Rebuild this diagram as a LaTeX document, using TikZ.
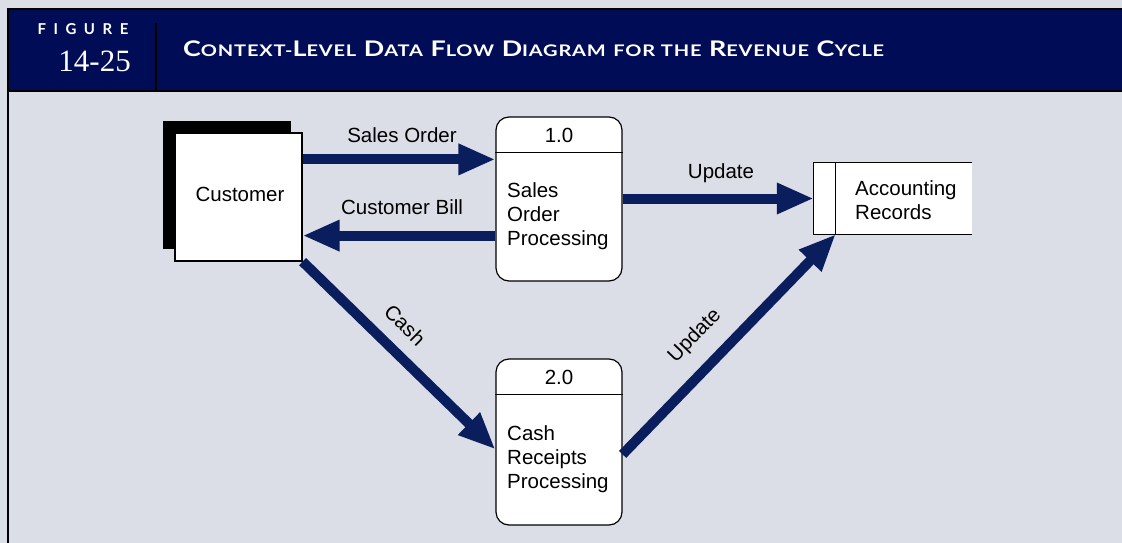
\documentclass[tikz,border=0pt]{standalone}
\usepackage{fontspec}
\usepackage{graphicx}
\setmainfont{Liberation Sans}
\newfontfamily\numfont{Liberation Serif}
\newfontfamily\ttlfont{Lato}
\usetikzlibrary{arrows.meta,calc}
\definecolor{bg}{RGB}{219,222,231}
\definecolor{navy}{RGB}{0,13,86}
\definecolor{flowc}{RGB}{10,30,94}
\newcommand\SCx[2]{{\fontsize{21.5}{21.5}\selectfont #1}{\fontsize{16}{16}\selectfont #2}}
\begin{document}
\begin{tikzpicture}[x=1pt,y=-1pt,
  every node/.style={font=\fontsize{20.5}{24}\selectfont, inner sep=0pt},
  boxline/.style={draw=black, line width=1.2pt},
  proc/.style={boxline, fill=white, rounded corners=13pt, minimum width=126pt, minimum height=#1},
  flow/.style={draw=flowc, line width=10pt, -{Triangle[length=37pt,width=29pt]}},
  flowlbl/.style={text=black}
]
\useasboundingbox (0,0) rectangle (1122,543);
\fill[bg] (0,0) rectangle (1122,543);
% header
\fill[navy] (8,9) rectangle (1125,91);
\draw[line width=2.2pt] (8,560) -- (8,9) -- (1125,9);
\draw[line width=2pt] (8,91) -- (1125,91);
\draw[line width=2.5pt] (156,23) -- (156,91);
\node[anchor=base, text=white, font=\ttlfont\bfseries\fontsize{15}{15}\selectfont] (figword) at (83,35)
  {\addfontfeature{LetterSpace=50}FIGURE};
\node[anchor=base east, text=white, font=\numfont\fontsize{31}{31}\selectfont] (fignum) at (131,71.5) {14-25};
\node[anchor=base west, text=white, font=\ttlfont\bfseries\fontsize{21.5}{21.5}\selectfont] (title) at (183,57)
  {\resizebox{701pt}{\height}{\addfontfeature{LetterSpace=4}\SCx{C}{ONTEXT-}\SCx{L}{EVEL} \SCx{D}{ATA} \SCx{F}{LOW} \SCx{D}{IAGRAM} \SCx{}{FOR THE} \SCx{R}{EVENUE} \SCx{C}{YCLE}}};
% customer
\node[fill=black, minimum width=128pt, minimum height=128pt] (custshadow) at (226.5,185) {};
\node[boxline, fill=white, minimum width=127pt, minimum height=128pt] (cust) at (238.5,197) {};
\node (custt) at (240,194) {Customer};
% processes
\node[proc=164pt] (p1) at (559,199) {};
\draw[boxline] ($(p1.north west)+(0,36)$) coordinate (p1dl) -- (p1dl -| p1.east);
\node (p1n) at ($(p1.north)+(0,19)$) {1.0};
\node[anchor=west, align=left] (p1t) at (507,216) {Sales\\Order\\Processing};

\node[proc=166pt] (p2) at (559,442) {};
\draw[boxline] ($(p2.north west)+(0,36)$) coordinate (p2dl) -- (p2dl -| p2.east);
\node (p2n) at ($(p2.north)+(0,19)$) {2.0};
\node[anchor=west, align=left] (p2t) at (507,459) {Cash\\Receipts\\Processing};
% data store
\node[minimum width=158pt, minimum height=71pt, fill=white] (acc) at (893,198.5) {};
\draw[boxline] (acc.north east) -- (acc.north west) -- (acc.south west) -- (acc.south east);
\draw[boxline] ($(acc.north west)+(22,0)$) coordinate (accd) -- (accd |- acc.south);
\node[anchor=west, align=left] (acct) at (855,200) {Accounting\\Records};
% flows
\draw[flow] ($(cust.north east)+(0,27)$) coordinate (so) -- (so -| p1.west);
\draw[flow] ($(p1.south west)+(0,-46)$) coordinate (cb) -- (cb -| cust.east);
\draw[flow] (p1.east |- acc.west) -- (acc.west);
\draw[flow] (cust.south east) -- ($(p2.north west)+(0,91)$);
\draw[flow] ($(p2.north east)+(0,96)$) -- (accd |- acc.south);
% labels
\node[flowlbl] (l1) at (402,135) {Sales Order};
\node[flowlbl] (l2) at (402,207) {Customer Bill};
\node[flowlbl] (l3) at (721,173) {Update};
\node[flowlbl, rotate=-44.5] (l4) at (405,325) {Cash};
\node[flowlbl, rotate=46] (l5) at (695,336) {Update};
\end{tikzpicture}
\end{document}
